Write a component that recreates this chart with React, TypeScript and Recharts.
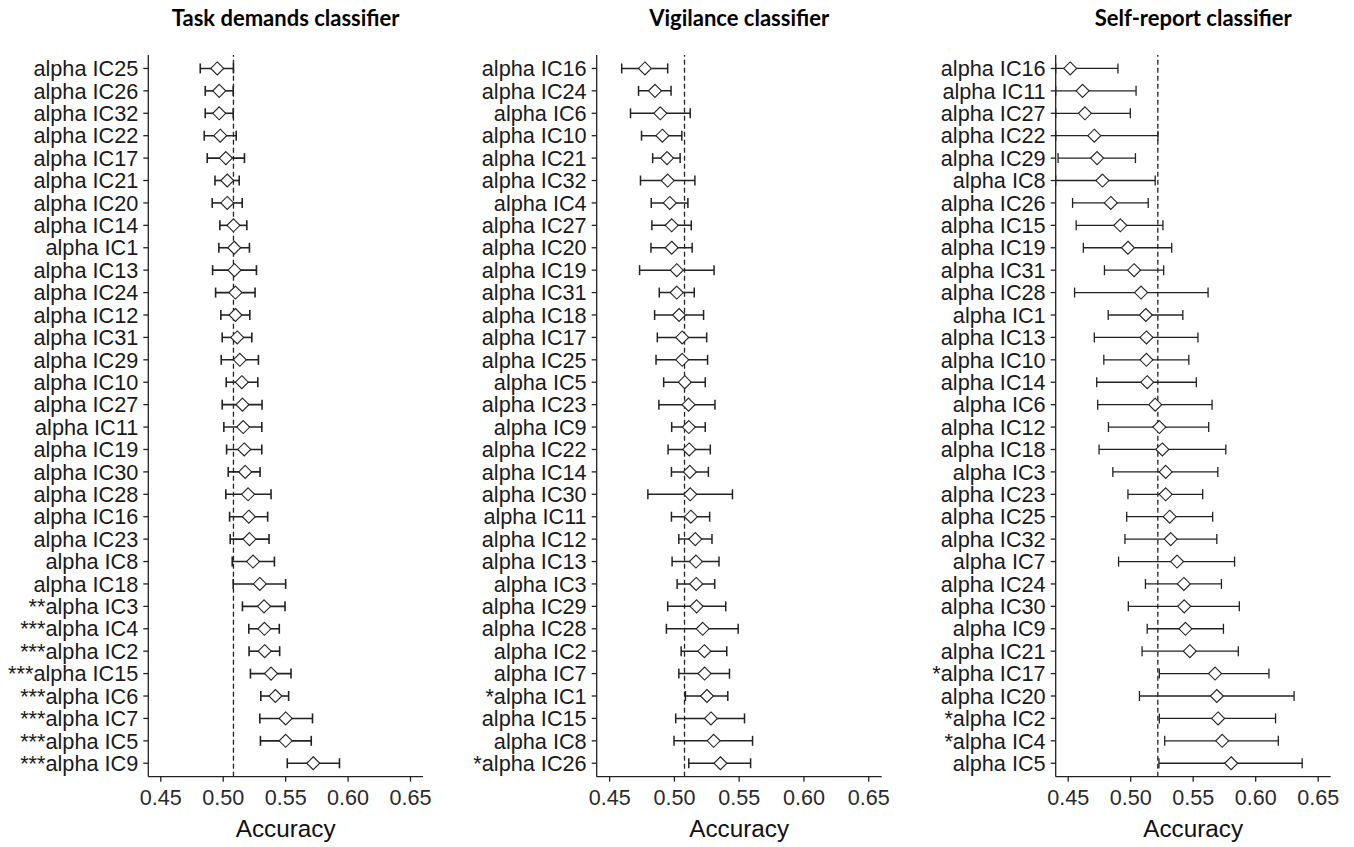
import { ScatterChart, Scatter, XAxis, YAxis, ErrorBar, ReferenceLine } from 'recharts'

const xTicks = [0.45, 0.5, 0.55, 0.6, 0.65]

// Task demands classifier (top to bottom)
const taskLabels = [
  'alpha IC25', 'alpha IC26', 'alpha IC32', 'alpha IC22', 'alpha IC17', 'alpha IC21', 'alpha IC20', 'alpha IC14',
  'alpha IC1', 'alpha IC13', 'alpha IC24', 'alpha IC12', 'alpha IC31', 'alpha IC29', 'alpha IC10', 'alpha IC27',
  'alpha IC11', 'alpha IC19', 'alpha IC30', 'alpha IC28', 'alpha IC16', 'alpha IC23', 'alpha IC8', 'alpha IC18',
  '**alpha IC3', '***alpha IC4', '***alpha IC2', '***alpha IC15', '***alpha IC6', '***alpha IC7', '***alpha IC5', '***alpha IC9',
]
const taskMean = [
  0.4952, 0.4968, 0.4968, 0.4976, 0.5021, 0.5032, 0.5032, 0.5082,
  0.5088, 0.5090, 0.5098, 0.5098, 0.5112, 0.5133, 0.5149, 0.5154,
  0.5160, 0.5168, 0.5176, 0.5199, 0.5205, 0.5210, 0.5239, 0.5293,
  0.5327, 0.5330, 0.5332, 0.5383, 0.5418, 0.5500, 0.5500, 0.5721,
]
const taskLow = [
  0.4816, 0.4856, 0.4856, 0.4848, 0.4872, 0.4934, 0.4912, 0.4973,
  0.4965, 0.4915, 0.4939, 0.4981, 0.4992, 0.4984, 0.5024, 0.4992,
  0.5005, 0.5027, 0.5040, 0.5021, 0.5051, 0.5056, 0.5072, 0.5080,
  0.5154, 0.5205, 0.5207, 0.5218, 0.5301, 0.5293, 0.5298, 0.5513,
]
const taskHigh = [
  0.5082, 0.5080, 0.5080, 0.5104, 0.5170, 0.5128, 0.5152, 0.5189,
  0.5210, 0.5266, 0.5255, 0.5213, 0.5229, 0.5282, 0.5277, 0.5311,
  0.5309, 0.5309, 0.5295, 0.5383, 0.5356, 0.5367, 0.5410, 0.5500,
  0.5495, 0.5449, 0.5452, 0.5543, 0.5524, 0.5715, 0.5705, 0.5931,
]
const taskChance = 0.5082

// Vigilance classifier
const vigLabels = [
  'alpha IC16', 'alpha IC24', 'alpha IC6', 'alpha IC10', 'alpha IC21', 'alpha IC32', 'alpha IC4', 'alpha IC27',
  'alpha IC20', 'alpha IC19', 'alpha IC31', 'alpha IC18', 'alpha IC17', 'alpha IC25', 'alpha IC5', 'alpha IC23',
  'alpha IC9', 'alpha IC22', 'alpha IC14', 'alpha IC30', 'alpha IC11', 'alpha IC12', 'alpha IC13', 'alpha IC3',
  'alpha IC29', 'alpha IC28', 'alpha IC2', 'alpha IC7', '*alpha IC1', 'alpha IC15', 'alpha IC8', '*alpha IC26',
]
const vigMean = [
  0.4772, 0.4850, 0.4891, 0.4907, 0.4943, 0.4948, 0.4964, 0.4979,
  0.4979, 0.5018, 0.5018, 0.5036, 0.5060, 0.5060, 0.5080, 0.5109,
  0.5111, 0.5114, 0.5119, 0.5122, 0.5127, 0.5161, 0.5166, 0.5168,
  0.5171, 0.5218, 0.5231, 0.5233, 0.5251, 0.5282, 0.5303, 0.5355,
]
const vigLow = [
  0.4593, 0.4723, 0.4661, 0.4746, 0.4832, 0.4738, 0.4821, 0.4826,
  0.4819, 0.4731, 0.4883, 0.4847, 0.4868, 0.4858, 0.4917, 0.4880,
  0.4979, 0.4951, 0.4977, 0.4795, 0.4977, 0.5034, 0.4982, 0.5021,
  0.4948, 0.4938, 0.5052, 0.5034, 0.5085, 0.5010, 0.4997, 0.5111,
]
const vigHigh = [
  0.4948, 0.4974, 0.5122, 0.5057, 0.5044, 0.5158, 0.5104, 0.5130,
  0.5137, 0.5306, 0.5153, 0.5225, 0.5249, 0.5256, 0.5238, 0.5313,
  0.5238, 0.5277, 0.5262, 0.5448, 0.5272, 0.5290, 0.5344, 0.5311,
  0.5396, 0.5492, 0.5404, 0.5425, 0.5412, 0.5541, 0.5603, 0.5588,
]
const vigChance = 0.5078

// Self-report classifier
const selfLabels = [
  'alpha IC16', 'alpha IC11', 'alpha IC27', 'alpha IC22', 'alpha IC29', 'alpha IC8', 'alpha IC26', 'alpha IC15',
  'alpha IC19', 'alpha IC31', 'alpha IC28', 'alpha IC1', 'alpha IC13', 'alpha IC10', 'alpha IC14', 'alpha IC6',
  'alpha IC12', 'alpha IC18', 'alpha IC3', 'alpha IC23', 'alpha IC25', 'alpha IC32', 'alpha IC7', 'alpha IC24',
  'alpha IC30', 'alpha IC9', 'alpha IC21', '*alpha IC17', 'alpha IC20', '*alpha IC2', '*alpha IC4', 'alpha IC5',
]
const selfMean = [
  0.4516, 0.4615, 0.4634, 0.4709, 0.4731, 0.4774, 0.4841, 0.4917,
  0.4978, 0.5027, 0.5083, 0.5121, 0.5126, 0.5126, 0.5132, 0.5196,
  0.5229, 0.5253, 0.5280, 0.5280, 0.5312, 0.5320, 0.5371, 0.5425,
  0.5428, 0.5438, 0.5473, 0.5675, 0.5689, 0.5699, 0.5732, 0.5804,
]
const selfLow = [
  0.44, 0.44, 0.44, 0.44, 0.4419, 0.44, 0.4535, 0.4564,
  0.4621, 0.4790, 0.4551, 0.4820, 0.4709, 0.4785, 0.4728, 0.4736,
  0.4822, 0.4747, 0.4857, 0.4978, 0.4968, 0.4954, 0.4903, 0.5118,
  0.4981, 0.5132, 0.5091, 0.5229, 0.5070, 0.5229, 0.5272, 0.5226,
]
const selfHigh = [
  0.4898, 0.5043, 0.4997, 0.5218, 0.5038, 0.5196, 0.5140, 0.5258,
  0.5328, 0.5264, 0.5619, 0.5417, 0.5538, 0.5465, 0.5525, 0.5651,
  0.5624, 0.5761, 0.5697, 0.5576, 0.5656, 0.5689, 0.5831, 0.5726,
  0.5869, 0.5742, 0.5861, 0.6106, 0.6307, 0.6159, 0.6181, 0.6372,
]
const selfChance = 0.5217

const ink = '#222'
const font = '"Liberation Sans", Arial, sans-serif'

const Diamond = (props: any) => {
  const { cx, cy } = props
  const r = 6.5
  return (
    <path
      d={`M${cx},${cy - r}L${cx + r},${cy}L${cx},${cy + r}L${cx - r},${cy}Z`}
      fill="#fff"
      stroke={ink}
      strokeWidth={1.1}
    />
  )
}

type PanelProps = {
  title: string
  labels: string[]
  mean: number[]
  low: number[]
  high: number[]
  chance: number
  left: number
  axisWidth: number
  plotWidth: number
  barWidth: number
}

function Panel({ title, labels, mean, low, high, chance, left, axisWidth, plotWidth, barWidth }: PanelProps) {
  const rows = labels.map((label, i) => ({
    pos: i + 1,
    label,
    acc: mean[i],
    err: [mean[i] - low[i], high[i] - mean[i]],
  }))
  const positions = rows.map(r => r.pos)
  const rightPad = 20

  return (
    <div style={{ position: 'absolute', left, top: 0 }}>
      <div
        style={{
          position: 'absolute',
          left: axisWidth - 40,
          width: plotWidth + 80,
          top: 4,
          textAlign: 'center',
          fontFamily: 'Lato, sans-serif',
          fontWeight: 700,
          fontSize: 22,
          color: '#000',
          whiteSpace: 'nowrap',
        }}
      >
        {title}
      </div>
      <ScatterChart
        width={axisWidth + plotWidth + rightPad}
        height={847}
        margin={{ top: 55, right: rightPad, bottom: 0, left: 0 }}
      >
        <XAxis
          type="number"
          dataKey="acc"
          domain={[0.44, 0.66]}
          allowDataOverflow
          ticks={xTicks}
          tickFormatter={v => Number(v).toFixed(2)}
          height={70.3}
          tickSize={5}
          tickMargin={8}
          stroke={ink}
          strokeWidth={1.3}
          tick={{ fill: '#2a2a2a', fontSize: 21.6, fontFamily: font }}
          label={{ value: 'Accuracy', position: 'insideBottom', offset: 10, fill: '#111', fontSize: 24.3, fontFamily: font }}
        />
        <YAxis
          type="number"
          dataKey="pos"
          domain={[0.4, 32.6]}
          reversed
          ticks={positions}
          interval={0}
          tickFormatter={v => labels[Number(v) - 1]}
          width={axisWidth}
          tickSize={5}
          tickMargin={5}
          stroke={ink}
          strokeWidth={1.3}
          tick={{ fill: '#1a1a1a', fontSize: 21.7, fontFamily: font }}
        />
        <Scatter data={rows} shape={Diamond} isAnimationActive={false}>
          <ErrorBar dataKey="err" direction="x" width={5} stroke={ink} strokeWidth={barWidth} />
        </Scatter>
        <ReferenceLine x={chance} stroke={ink} strokeWidth={1.3} strokeDasharray="5 3" />
      </ScatterChart>
    </div>
  )
}

export default function App() {
  return (
    <div style={{ position: 'absolute', left: 0, top: 0, width: 1354, height: 847, background: '#fff' }}>
      <Panel
        title="Task demands classifier"
        labels={taskLabels}
        mean={taskMean}
        low={taskLow}
        high={taskHigh}
        chance={taskChance}
        left={0}
        axisWidth={148.3}
        plotWidth={274.7}
        barWidth={1.6}
      />
      <Panel
        title="Vigilance classifier"
        labels={vigLabels}
        mean={vigMean}
        low={vigLow}
        high={vigHigh}
        chance={vigChance}
        left={440}
        axisWidth={156.7}
        plotWidth={285}
        barWidth={1.5}
      />
      <Panel
        title="Self-report classifier"
        labels={selfLabels}
        mean={selfMean}
        low={selfLow}
        high={selfHigh}
        chance={selfChance}
        left={900}
        axisWidth={155.7}
        plotWidth={275}
        barWidth={1.3}
      />
    </div>
  )
}
